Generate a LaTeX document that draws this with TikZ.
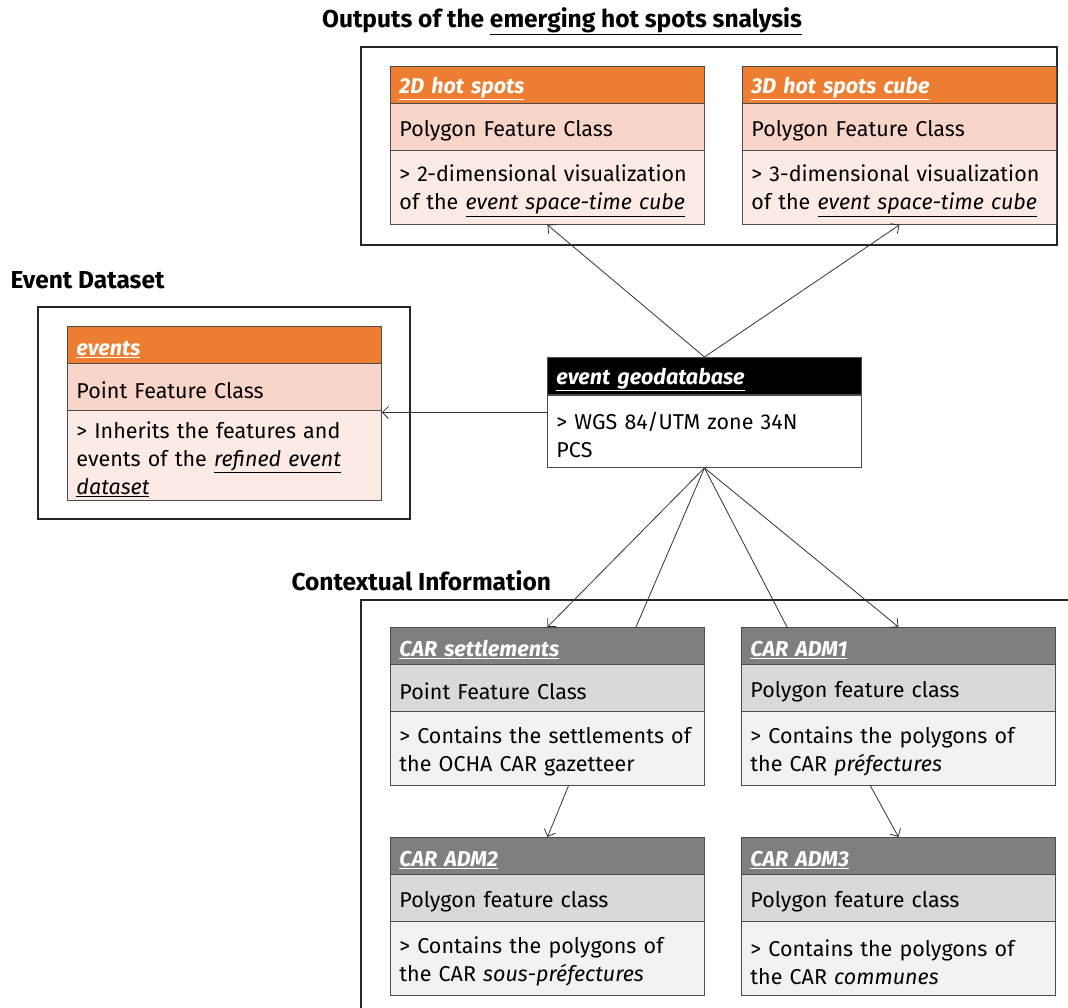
\documentclass[tikz,border=0pt]{standalone}
\usepackage{fontspec}
\setmainfont{Fira Sans}
\usetikzlibrary{arrows.meta}
\definecolor{orhead}{HTML}{ED7D31}
\definecolor{ormid}{HTML}{F8D5C8}
\definecolor{orlow}{HTML}{FCEAE5}
\definecolor{grhead}{HTML}{7F7F7F}
\definecolor{grmid}{HTML}{D9D9D9}
\definecolor{grlow}{HTML}{F2F2F2}
\newcommand{\bx}{\fontsize{21.5}{28}\selectfont}
\newcommand{\tx}{\fontsize{24.5}{28}\selectfont}
\newcommand{\undl}[1]{\underline{#1}}

\begin{document}
\begin{tikzpicture}[x=1pt,y=-1pt,>={Straight Barb[length=6pt,width=12pt]}]
	\tikzstyle{cell}=[draw=black!70,line width=0.9pt,anchor=north west,text width=296pt,inner xsep=9pt,inner ysep=0pt,align=left,font=\bx,execute at begin node={\hyphenpenalty=10000\rule{0pt}{23.5pt}}]
	\tikzstyle{head}=[cell,minimum height=37pt,text=white,font=\bx\bfseries\itshape]
	\tikzstyle{kind}=[cell,minimum height=47pt]
	\tikzstyle{desc}=[cell,minimum height=74pt]
	\tikzstyle{frame}=[draw=black!85,line width=1.3pt]
	\tikzstyle{title}=[font=\tx\bfseries]
	\tikzstyle{link}=[draw=black!80,line width=0.8pt]

	\useasboundingbox (0,0) rectangle (1068,1008);

	% group frames
	\draw[frame] (361,47) rectangle (1057,245);
	\draw[frame] (38,307) rectangle (410,519);
	\draw[frame] (1068,600) -- (361,600) -- (361,1008);

	\node[title] (t-out) at (562,21) {Outputs of the \undl{emerging hot spots snalysis}};
	\node[title,anchor=west] (t-ev) at (7,280) {Event Dataset};
	\node[title,anchor=west] (t-ctx) at (288,581) {Contextual Information};

	% outputs
	\node[head,fill=orhead] (hs2d-h) at (390,66) {\undl{2D hot spots}};
	\node[kind,fill=ormid] (hs2d-k) at (390,103) {Polygon Feature Class};
	\node[desc,fill=orlow] (hs2d-d) at (390,150) {> 2-dimensional visualization\\of the \undl{\textit{event space-time cube}}};

	\node[head,fill=orhead] (hs3d-h) at (742,66) {\undl{3D hot spots cube}};
	\node[kind,fill=ormid] (hs3d-k) at (742,103) {Polygon Feature Class};
	\node[desc,fill=orlow] (hs3d-d) at (742,150) {> 3-dimensional visualization\\of the \undl{\textit{event space-time cube}}};

	% event dataset
	\node[head,fill=orhead] (ev-h) at (67,326) {\undl{events}};
	\node[kind,fill=ormid] (ev-k) at (67,363) {Point Feature Class};
	\node[desc,fill=orlow,minimum height=90pt] (ev-d) at (67,410) {> Inherits the features and\\events of the \undl{\textit{refined event}}\\\undl{\textit{dataset}}};

	% geodatabase
	\node[head,fill=black] (geo-h) at (547,357) {\undl{event geodatabase}};
	\node[cell,fill=white,minimum height=72pt] (geo-b) at (547,395) {> WGS 84/UTM zone 34N\\PCS};

	% contextual information
	\node[head,fill=grhead] (set-h) at (390,627) {\undl{CAR settlements}};
	\node[kind,fill=grmid] (set-k) at (390,664) {Point Feature Class};
	\node[desc,fill=grlow] (set-d) at (390,711) {> Contains the settlements of\\the OCHA CAR gazetteer};

	\node[head,fill=grhead] (adm1-h) at (741,627) {\undl{CAR ADM1}};
	\node[kind,fill=grmid] (adm1-k) at (741,664) {Polygon feature class};
	\node[desc,fill=grlow] (adm1-d) at (741,711) {> Contains the polygons of\\the CAR \textit{préfectures}};

	\node[head,fill=grhead] (adm2-h) at (390,837) {\undl{CAR ADM2}};
	\node[kind,fill=grmid] (adm2-k) at (390,874) {Polygon feature class};
	\node[desc,fill=grlow] (adm2-d) at (390,921) {> Contains the polygons of\\the CAR \textit{sous-préfectures}};

	\node[head,fill=grhead] (adm3-h) at (741,837) {\undl{CAR ADM3}};
	\node[kind,fill=grmid] (adm3-k) at (741,874) {Polygon feature class};
	\node[desc,fill=grlow] (adm3-d) at (741,921) {> Contains the polygons of\\the CAR \textit{communes}};

	% connectors
	\coordinate (geo-w) at ([yshift=19pt]geo-b.west);
	\path[link,->] (geo-h.north) -- (hs2d-d.south);
	\path[link,->] (geo-h.north) -- (hs3d-d.south);
	\path[link,->] (geo-w) -- (geo-w -| ev-d.east);
	\path[link,->] (geo-b.south) -- (set-h.north);
	\path[link] (geo-b.south) -- ([xshift=246pt]set-h.north west);
	\path[link] (geo-b.south) -- ([xshift=46pt]adm1-h.north west);
	\path[link,->] (geo-b.south) -- (adm1-h.north);
	\path[link,->] ([xshift=21pt]set-d.south) -- (adm2-h.north);
	\path[link,->] ([xshift=-28pt]adm1-d.south) -- (adm3-h.north);
\end{tikzpicture}
\end{document}
